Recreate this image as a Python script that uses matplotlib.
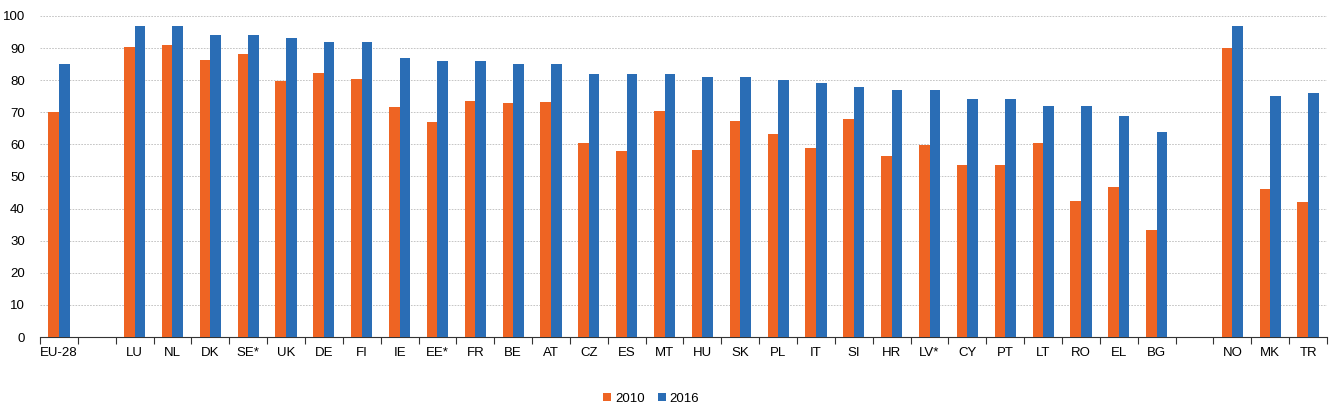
import numpy as np
import matplotlib
matplotlib.use("Agg")
import matplotlib.pyplot as plt
from matplotlib.ticker import FixedLocator, NullFormatter

plt.rcParams['font.family'] = ['Liberation Sans Narrow', 'Liberation Sans', 'DejaVu Sans']

# empty strings are the gaps between groups
countries = ['EU-28', '',
             'LU', 'NL', 'DK', 'SE*', 'UK', 'DE', 'FI', 'IE', 'EE*', 'FR', 'BE', 'AT',
             'CZ', 'ES', 'MT', 'HU', 'SK', 'PL', 'IT', 'SI', 'HR', 'LV*', 'CY', 'PT',
             'LT', 'RO', 'EL', 'BG', '',
             'NO', 'MK', 'TR']
nan = np.nan
y2010 = [70, nan,
         90.3, 91, 86.2, 88.2, 79.6, 82.3, 80.4, 71.5, 66.9, 73.6, 72.8, 73.1,
         60.5, 57.8, 70.5, 58.3, 67.4, 63.3, 58.9, 68, 56.5, 59.7, 53.6, 53.6,
         60.5, 42.4, 46.6, 33.2, nan,
         90, 46, 42.1]
y2016 = [85, nan,
         97, 97, 94, 94, 93, 92, 92, 87, 86, 86, 85, 85,
         82, 82, 82, 81, 81, 80, 79, 78, 77, 77, 74, 74,
         72, 72, 69, 64, nan,
         97, 75, 76]

orange = '#EE6423'
blue = '#2A6DB5'

fig = plt.figure(figsize=(13.35, 4.15), dpi=100)
ax = fig.add_axes([40 / 1335, 78 / 415, 1287 / 1335, 321 / 415])

x = np.arange(len(countries))
w = 0.28
ax.bar(x - w / 2, y2010, w, color=orange, label='2010', zorder=3)
ax.bar(x + w / 2, y2016, w, color=blue, label='2016', zorder=3)

ax.set_xlim(-0.5, len(countries) - 0.5)
ax.set_ylim(0, 100)
ax.set_yticks(range(0, 101, 10))
ax.tick_params(axis='y', length=0, labelsize=9.5, pad=11)

ax.xaxis.set_major_locator(FixedLocator(np.arange(len(countries) + 1) - 0.5))
ax.xaxis.set_major_formatter(NullFormatter())
ax.xaxis.set_minor_locator(FixedLocator(x))
ax.set_xticklabels(countries, minor=True)
ax.tick_params(axis='x', which='major', length=5, color='#333333', direction='out')
ax.tick_params(axis='x', which='minor', length=0, labelsize=9.5, pad=7)

for s in ['top', 'right', 'left']:
    ax.spines[s].set_visible(False)
ax.spines['bottom'].set_color('#333333')

for v in range(10, 101, 10):
    ax.axhline(v, color='#BBBBBB', lw=0.6, ls=(0, (2, 1.5)), zorder=1)

ax.legend(loc='center', bbox_to_anchor=(0.475, -0.193), ncol=2, frameon=False,
          fontsize=9.5, handlelength=0.6, handleheight=0.6, handletextpad=0.3,
          columnspacing=1.0, borderaxespad=0)

fig.savefig('out.png', dpi=100)
